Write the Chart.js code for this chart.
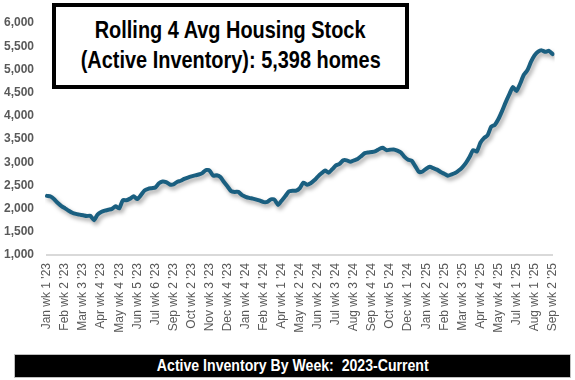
<!DOCTYPE html>
<html>
<head>
<meta charset="utf-8">
<script src="https://cdn.jsdelivr.net/npm/chart.js@4.4.1/dist/chart.umd.min.js"></script>
<style>
  html, body { margin:0; padding:0; background:#fff; }
  #wrap { position:relative; width:575px; height:380px; overflow:hidden; }
  #c { position:absolute; left:0; top:0; }
  .narrow { font-family:'Liberation Sans',Arial,sans-serif; font-weight:bold; }
  .sq { display:inline-block; transform:scaleX(0.83); transform-origin:center; white-space:pre; }
  #titleBox { position:absolute; left:52px; top:3px; width:349px; height:78px; border:4px solid #000; background:#fff;
    font-size:24px; line-height:30px; text-align:center; color:#000; box-sizing:content-box; }
  #titleBox div { white-space:nowrap; margin-left:-40px; margin-right:-40px; }
  #banner { position:absolute; left:14px; top:354px; width:555px; height:22px; background:#000; border:1px solid #bfbfbf;
    color:#fff; font-size:17px; line-height:22px; text-align:center; white-space:pre; }
</style>
</head>
<body>
<div id="wrap">
  <canvas id="c" width="575" height="380"></canvas>
  <div id="titleBox" class="narrow"><div style="margin-top:8px"><span class="sq">Rolling 4 Avg Housing Stock</span></div><div><span class="sq">(Active Inventory): 5,398 homes</span></div></div>
  <div id="banner" class="narrow"><span class="sq">Active Inventory By Week:  2023-Current</span></div>
</div>
<script>
// Tick labels shown on the x axis (every 5th week)
const tickLabels = ["Jan wk 1 '23","Feb wk 2 '23","Mar wk 3 '23","Apr wk 4 '23","May wk 4 '23","Jun wk 5 '23","Jul wk 6 '23","Sep wk 2 '23","Oct wk 2 '23","Nov wk 3 '23","Dec wk 4 '23","Jan wk 4 '24","Feb wk 4 '24","Apr wk 1 '24","May wk 2 '24","Jun wk 2 '24","Jul wk 3 '24","Aug wk 3 '24","Sep wk 4 '24","Oct wk 5 '24","Dec wk 1 '24","Jan wk 2 '25","Feb wk 2 '25","Mar wk 3 '25","Apr wk 4 '25","May wk 4 '25","Jul wk 1 '25","Aug wk 1 '25","Sep wk 2 '25"];
const labelEvery = 5;

// Weekly rolling 4-week average active inventory (141 weeks)
const inventory = [
 2275,2260,2200,2120,2055,2005,1955,1910,1885,1870,
 1855,1840,1845,1750,1870,1925,1955,1975,1995,2050,
 2005,2180,2180,2215,2265,2205,2290,2390,2425,2440,
 2455,2545,2585,2570,2520,2520,2575,2600,2640,2670,
 2695,2715,2735,2765,2830,2820,2710,2720,2680,2575,
 2475,2375,2360,2360,2290,2255,2230,2215,2195,2170,
 2140,2145,2200,2190,2080,2175,2270,2370,2385,2385,
 2440,2560,2515,2545,2610,2690,2760,2820,2775,2850,
 2930,2965,3040,3040,3010,3040,3070,3130,3195,3210,
 3220,3240,3285,3310,3260,3270,3275,3250,3210,3115,
 3055,3030,2910,2790,2800,2860,2900,2870,2840,2790,
 2750,2710,2735,2765,2820,2890,2985,3110,3260,3230,
 3420,3520,3580,3765,3805,3930,4100,4290,4460,4620,
 4535,4690,4880,4980,5160,5300,5385,5410,5380,5400,
 5330
];

const yTicks = { min:1000, max:6000, step:500 };

const categories = inventory.map((v,i) => (i % labelEvery === 0 ? (tickLabels[i/labelEvery] || '') : ''));

const shadowPlugin = {
  id:'lineShadow',
  beforeDatasetDraw(chart){ const c=chart.ctx; c.save(); c.shadowColor='rgba(0,0,0,0.35)'; c.shadowBlur=4; c.shadowOffsetX=2; c.shadowOffsetY=3; },
  afterDatasetDraw(chart){ chart.ctx.restore(); }
};

new Chart(document.getElementById('c'), {
  type:'line',
  data:{ labels:categories, datasets:[{ data:inventory, borderColor:'#1a5f80', borderWidth:4, pointRadius:0, tension:0.2,
    borderJoinStyle:'round', borderCapStyle:'round', fill:false }] },
  options:{
    responsive:false, animation:false,
    layout:{ padding:{ left:0, right:18, top:23, bottom:45 } },
    plugins:{ legend:{display:false}, tooltip:{enabled:false} },
    scales:{
      x:{
        offset:false,
        grid:{ display:false, drawTicks:false },
        border:{ display:true, color:'#d9d9d9', width:2 },
        ticks:{ autoSkip:false, maxRotation:90, minRotation:90, padding:8, color:'#595959',
          font:{ family:"'Liberation Sans', Arial, sans-serif", size:12 },
          callback:(v,i) => (i % labelEvery === 0 ? categories[i] : null) },
        afterFit:(s) => { s.height = 80; }
      },
      y:{
        min:yTicks.min, max:yTicks.max,
        grid:{ display:false, drawTicks:false },
        border:{ display:false },
        ticks:{ stepSize:yTicks.step, padding:13, color:'#595959',
          font:{ family:"'Liberation Sans', Arial, sans-serif", size:12, weight:'bold' },
          callback:(v) => v.toLocaleString('en-US') },
        afterFit:(s) => { s.width = 47; }
      }
    }
  },
  plugins:[shadowPlugin]
});
</script>
</body>
</html>
